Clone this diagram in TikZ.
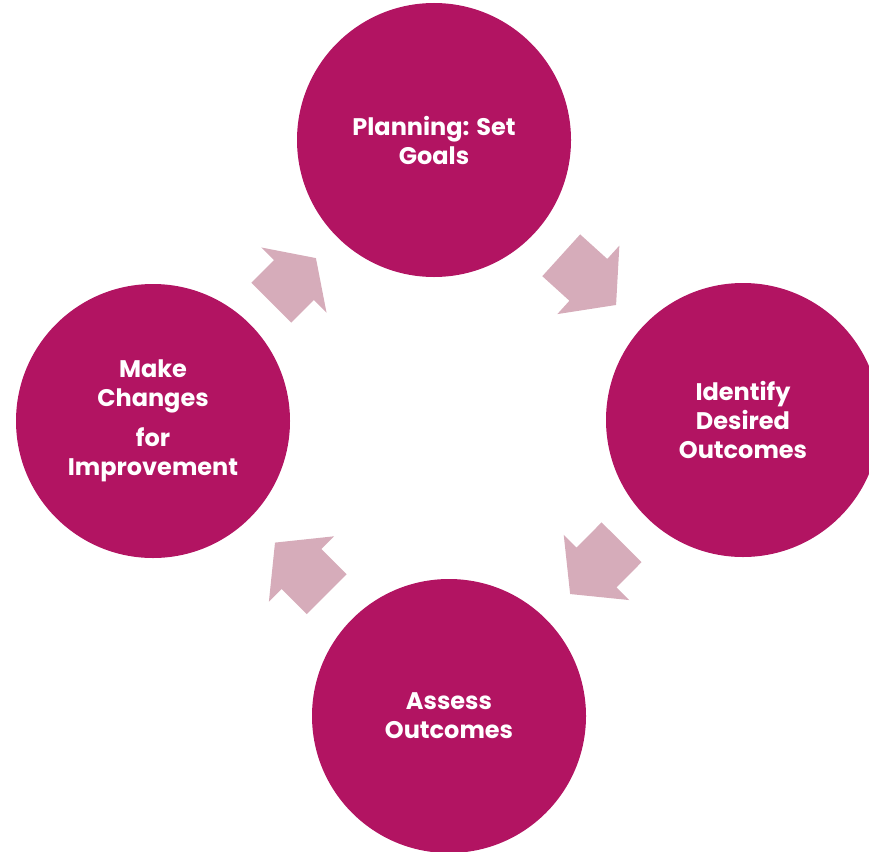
\documentclass[tikz,border=0pt]{standalone}
\usepackage{fontspec}
\setmainfont{Poppins}
\usetikzlibrary{shapes.arrows,calc}

\definecolor{berry}{RGB}{178,20,98}
\definecolor{rose}{RGB}{214,172,186}

\begin{document}
\begin{tikzpicture}[x=1pt,y=-1pt,
  stage/.style={circle, fill=berry, draw=none, minimum size=274pt, inner sep=0pt,
    text=white, align=center, font=\bfseries\fontsize{24}{29}\selectfont},
  flow/.style={single arrow, fill=rose, draw=none, inner xsep=0pt, inner ysep=28pt,
    single arrow head extend=18pt, single arrow tip angle=102,
    minimum height=74pt, anchor=tail, pos=0, sloped, allow upside down}]
\useasboundingbox (0,0) rectangle (869,851);
\clip (0,0) rectangle (869,851);

% the four stages of the cycle
\node[stage] (plan)    at (434,140) {Planning: Set\\Goals};
\node[stage] (outcome) at (743,420) {Identify\\Desired\\Outcomes};
\node[stage] (assess)  at (449,716) {Assess\\Outcomes};
\node[stage] (change)  at (153,421) {Make\\Changes\\[11pt]for\\Improvement};

% block arrows, centred between consecutive stages
\path ($(plan)!0.5!(outcome)!37pt!(plan)$) -- node[flow] (a1) {}
      ($(plan)!0.5!(outcome)!37pt!(outcome)$);
\path ($(outcome)!0.5!(assess)!36.5pt!(outcome)$) -- node[flow, minimum height=73pt] (a2) {}
      ($(outcome)!0.5!(assess)!36.5pt!(assess)$);
\path ($(assess)!0.5!(change)!36.5pt!(assess)$) -- node[flow, minimum height=73pt] (a3) {}
      ($(assess)!0.5!(change)!36.5pt!(change)$);
\path ($(change)!0.5!(plan)!31.5pt!(change)$) -- node[flow, minimum height=63pt,
      single arrow tip angle=112] (a4) {}
      ($(change)!0.5!(plan)!31.5pt!(plan)$);
\end{tikzpicture}
\end{document}
